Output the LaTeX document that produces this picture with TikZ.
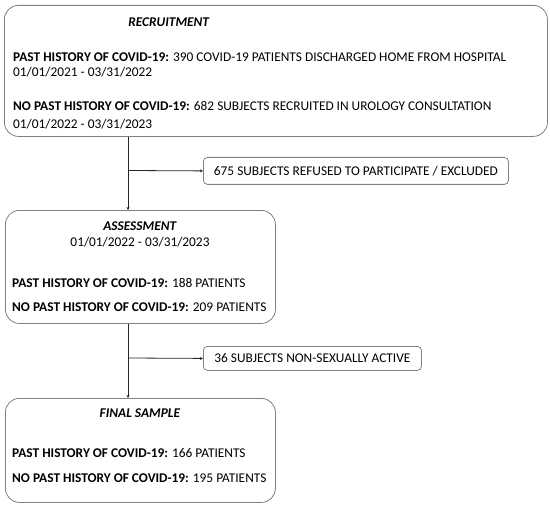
\documentclass[tikz,border=0pt]{standalone}
\usepackage{fontspec}
\setmainfont{Carlito}
\usetikzlibrary{arrows.meta,calc}
\begin{document}
\begin{tikzpicture}[x=1bp,y=-1bp,
  box/.style={draw=black!50, line width=0.8bp, rounded corners=14bp, anchor=north west, inner sep=0pt},
  exbox/.style={draw=black!50, line width=0.8bp, rounded corners=4bp, anchor=north west, inner sep=0pt},
  txt/.style={anchor=base west, inner sep=0pt, font=\fontsize{13.4}{15}\selectfont},
  ctxt/.style={anchor=base, inner sep=0pt, font=\fontsize{13.4}{15}\selectfont},
  conn/.style={draw=black!85, line width=0.8bp, -{Stealth[length=3bp,width=3bp]}}
]
\useasboundingbox (0,0) rectangle (550,507);
% boxes
\node[box, minimum width=543bp, minimum height=131bp] (b1) at (4,5) {};
\node[box, minimum width=270bp, minimum height=113bp] (b2) at (5,210) {};
\node[box, minimum width=270bp, minimum height=104bp] (b3) at (5,398) {};
\node[exbox, minimum width=305bp, minimum height=27bp] (e1) at (203,157) {};
\node[exbox, minimum width=218bp, minimum height=24bp] (e2) at (203,346) {};
% texts box 1
\node[ctxt] (t1) at (169,26.5) {\textbf{\textit{RECRUITMENT}}};
\node[txt] (t2) at (13,61.5) {\textbf{PAST HISTORY OF COVID-19:} 390 COVID-19 PATIENTS DISCHARGED HOME FROM HOSPITAL};
\node[txt] (t3) at (13,77) {01/01/2021 - 03/31/2022};
\node[txt] (t4) at (13,110.5) {\textbf{NO PAST HISTORY OF COVID-19:} 682 SUBJECTS RECRUITED IN UROLOGY CONSULTATION};
\node[txt] (t5) at (13,128.5) {01/01/2022 - 03/31/2023};
% texts box 2
\node[ctxt] (t6) at (140,230.5) {\textbf{\textit{ASSESSMENT}}};
\node[ctxt] (t7) at (140,246.5) {01/01/2022 - 03/31/2023};
\node[txt] (t8) at (12,287.5) {\textbf{PAST HISTORY OF COVID-19:} 188 PATIENTS};
\node[txt] (t9) at (12,311.5) {\textbf{NO PAST HISTORY OF COVID-19:} 209 PATIENTS};
% texts box 3
\node[ctxt] (t10) at (140,417.5) {\textbf{\textit{FINAL SAMPLE}}};
\node[txt] (t11) at (12,457.5) {\textbf{PAST HISTORY OF COVID-19:} 166 PATIENTS};
\node[txt] (t12) at (12,482.5) {\textbf{NO PAST HISTORY OF COVID-19:} 195 PATIENTS};
% exclusion texts
\node[ctxt] (t13) at (e1.center) [yshift=-4.3bp] {675 SUBJECTS REFUSED TO PARTICIPATE / EXCLUDED};
\node[ctxt] (t14) at (e2.center) [yshift=-4.3bp] {36 SUBJECTS NON-SEXUALLY ACTIVE};
% connectors
\coordinate (vx) at (128,0);
\coordinate (br1) at (128,170.5);
\coordinate (br2) at (128,358);
\draw[conn] (b1.south -| vx) -- (b2.north -| vx);
\draw[conn] (br1) -- (e1.west);
\draw[conn] (b2.south -| vx) -- (b3.north -| vx);
\draw[conn] (br2) -- (e2.west);
\end{tikzpicture}
\end{document}
